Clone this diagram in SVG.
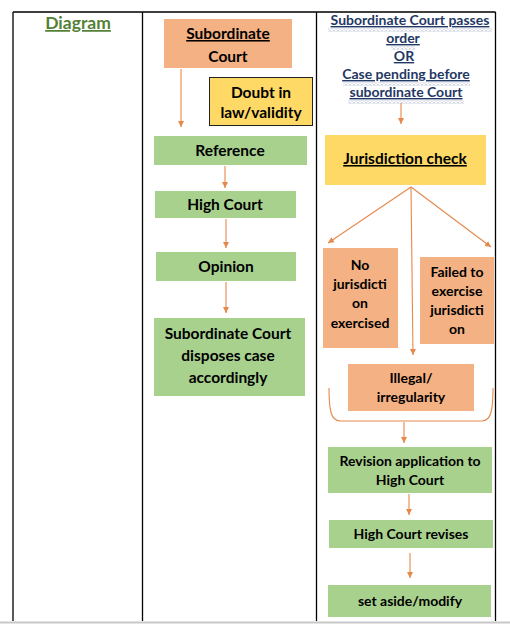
<svg xmlns="http://www.w3.org/2000/svg" width="510" height="624" viewBox="0 0 510 624">
<style>
.t{font-family:Lato,"Liberation Sans",sans-serif;font-weight:bold;text-anchor:middle;fill:#000}
.l{font-size:15.5px}
.r{font-size:14px}
.h{font-size:14px;fill:#1F3864}
.u{text-decoration:underline}
.g{fill:#A9D18E}
.o{fill:#F4B183}
.y{fill:#FFD966}
.grid{stroke:#000;stroke-width:1.3;fill:none}
.c{stroke:#E5884A;stroke-width:1.1;fill:none}
.a{marker-end:url(#ah)}
</style>
<defs>
<marker id="ah" markerUnits="userSpaceOnUse" markerWidth="7" markerHeight="7" refX="6" refY="3.5" orient="auto">
<path d="M0,0.5 L6,3.5 L0,6.5 z" fill="#E5884A"/>
</marker>
<pattern id="wave" patternUnits="userSpaceOnUse" x="0" y="0" width="4" height="3">
<path d="M0,2.5 L2,0.5 L4,2.5" fill="none" stroke="#7F8FB0" stroke-width="0.8"/>
</pattern>
</defs>
<rect width="510" height="624" fill="#fff"/>
<g id="table">
<path class="grid" d="M13,12 H495.5 M13,12 V621 M142.5,12 V621 M316.5,12 V621 M495.5,12 V621"/>
<path d="M0,622.5 H510" stroke="#C8C8C8" stroke-width="2"/>
</g>
<g id="title">
<text class="t u" x="78" y="29" style="font-size:17.5px;fill:#538135">Diagram</text>
</g>
<g id="connectors">
<path class="c a" d="M181,69 V127"/>
<path class="c a" d="M225,166 V188"/>
<path class="c a" d="M226,219 V248"/>
<path class="c a" d="M226,282 V313"/>
<path class="c a" d="M401,103 V124"/>
<path class="c a" d="M411,187 L328,243"/>
<path class="c a" d="M411,187 L413,355"/>
<path class="c a" d="M411,187 L491,247"/>
<path class="c" d="M329,388 C329,410 331,421 340,421 H482 C491,421 493,410 493,388"/>
<path class="c a" d="M404,422 V443"/>
<path class="c a" d="M409,494 V515"/>
<path class="c a" d="M410,553 V578"/>
</g>
<g id="sub-court">
<rect class="o" x="164" y="19" width="128" height="49"/>
<text class="t l u" x="228" y="39">Subordinate</text>
<text class="t l" x="228" y="62">Court</text>
</g>
<g id="doubt">
<rect class="y" x="209.5" y="77.5" width="103" height="48" stroke="#222" stroke-width="1"/>
<text class="t l" x="261" y="98">Doubt in</text>
<text class="t l" x="261" y="118">law/validity</text>
</g>
<g id="reference">
<rect class="g" x="154" y="136" width="153" height="29"/>
<text class="t l" x="230" y="156">Reference</text>
</g>
<g id="high-court">
<rect class="g" x="155" y="191" width="141" height="27"/>
<text class="t l" x="225" y="210">High Court</text>
</g>
<g id="opinion">
<rect class="g" x="156" y="252" width="140" height="29"/>
<text class="t l" x="226" y="272">Opinion</text>
</g>
<g id="disposes">
<rect class="g" x="154" y="318" width="151" height="78"/>
<text class="t l" x="228" y="339">Subordinate Court</text>
<text class="t l" x="228" y="361">disposes case</text>
<text class="t l" x="228" y="383">accordingly</text>
</g>
<g id="header">
<text class="t h u" x="410" y="25">Subordinate Court passes</text>
<text class="t h u" x="403" y="43">order</text>
<text class="t h u" x="404" y="61">OR</text>
<text class="t h u" x="406" y="79">Case pending before</text>
<text class="t h u" x="406" y="97">subordinate Court</text>
<rect x="328" y="28.5" width="164" height="3" fill="url(#wave)"/>
<rect x="391" y="46.5" width="24" height="3" fill="url(#wave)"/>
<rect x="343" y="82.5" width="127" height="3" fill="url(#wave)"/>
<rect x="348" y="100.5" width="116" height="3" fill="url(#wave)"/>
</g>
<g id="jurisdiction">
<rect class="y" x="325" y="135" width="161" height="50"/>
<text class="t u" x="405" y="164" style="font-size:15.5px">Jurisdiction check</text>
</g>
<g id="no-jurisdiction">
<rect class="o" x="323" y="248" width="75" height="100"/>
<text class="t r" x="360" y="270">No</text>
<text class="t r" x="360" y="289">jurisdicti</text>
<text class="t r" x="360" y="308">on</text>
<text class="t r" x="360" y="328">exercised</text>
</g>
<g id="failed">
<rect class="o" x="420" y="257" width="74" height="87"/>
<text class="t r" x="457" y="277">Failed to</text>
<text class="t r" x="457" y="296">exercise</text>
<text class="t r" x="457" y="315">jurisdicti</text>
<text class="t r" x="457" y="334">on</text>
</g>
<g id="illegal">
<rect class="o" x="348" y="364" width="126" height="47"/>
<text class="t r" x="411" y="383">Illegal/</text>
<text class="t r" x="411" y="402">irregularity</text>
</g>
<g id="revision">
<rect class="g" x="328" y="447" width="164" height="46"/>
<text class="t r" x="410" y="466">Revision application to</text>
<text class="t r" x="410" y="485">High Court</text>
</g>
<g id="revises">
<rect class="g" x="329" y="520" width="164" height="28"/>
<text class="t r" x="411" y="539">High Court revises</text>
</g>
<g id="set-aside">
<rect class="g" x="328" y="585" width="163" height="32"/>
<text class="t r" x="410" y="606">set aside/modify</text>
</g>
</svg>
